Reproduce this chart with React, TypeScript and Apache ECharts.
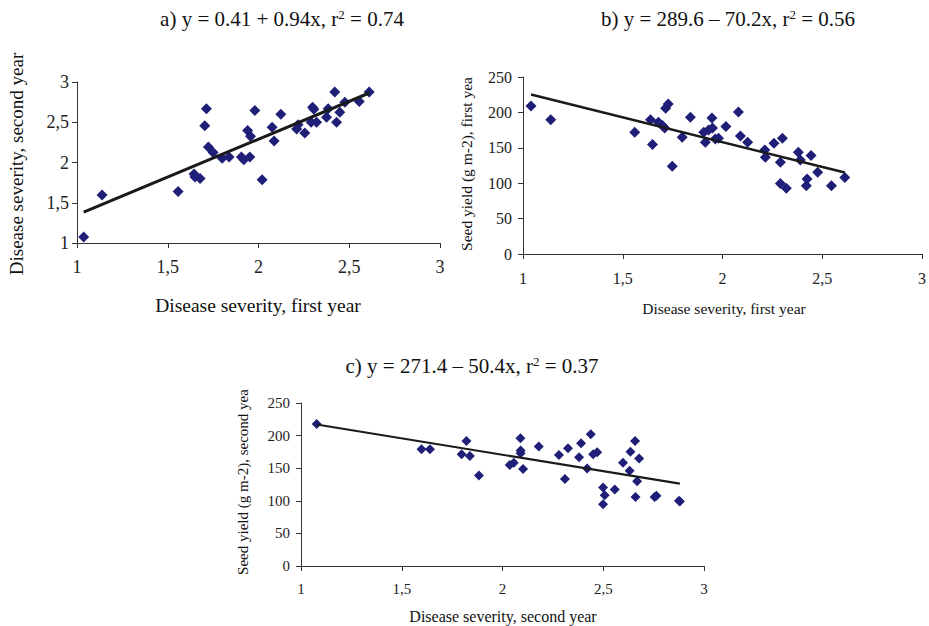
import { useEffect, useRef } from "react";
import * as echarts from "echarts";

// Panel a: disease severity first year vs second year
const aSev1 = [1.037, 1.138, 1.557, 1.645, 1.65, 1.678, 1.713, 1.704, 1.724, 1.75, 1.8, 1.838, 1.906, 1.919, 1.952, 1.94, 1.956, 1.98, 2.02, 2.075, 2.086, 2.123, 2.21, 2.218, 2.255, 2.298, 2.29, 2.32, 2.384, 2.375, 2.42, 2.43, 2.448, 2.476, 2.555, 2.61, 2.305];
const aSev2 = [1.075, 1.596, 1.64, 1.858, 1.82, 1.8, 2.667, 2.458, 2.192, 2.125, 2.054, 2.067, 2.067, 2.033, 2.067, 2.396, 2.325, 2.646, 1.787, 2.4375, 2.267, 2.6, 2.417, 2.47, 2.367, 2.6875, 2.5, 2.5, 2.667, 2.5625, 2.875, 2.5, 2.625, 2.75, 2.758, 2.875, 2.66];
const aFit = { intercept: 0.41, slope: 0.94 };

// Panel b: disease severity first year vs seed yield first year
const bSev = [1.04, 1.139, 1.56, 1.639, 1.649, 1.679, 1.699, 1.71, 1.715, 1.728, 1.748, 1.798, 1.839, 1.906, 1.914, 1.93, 1.947, 1.95, 1.964, 1.98, 2.017, 2.08, 2.09, 2.126, 2.212, 2.215, 2.258, 2.3, 2.29, 2.29, 2.32, 2.38, 2.39, 2.444, 2.424, 2.42, 2.477, 2.546, 2.613];
const bYield = [208.9, 189.5, 172, 189.5, 154.5, 186, 181.5, 178, 206, 212, 123.8, 165, 193, 172, 158, 175, 192, 178, 162.6, 163.5, 180, 200.4, 166.8, 157.8, 147, 136.6, 156.4, 163.5, 129.5, 99.7, 93, 143.7, 132.8, 139, 105.9, 96.4, 115.3, 96.4, 108.2];
const bFit = { intercept: 298, slope: -70 };

// Panel c: disease severity second year vs seed yield second year
const cSev = [1.078, 1.598, 1.64, 1.797, 1.821, 1.838, 1.883, 2.036, 2.056, 2.089, 2.09, 2.09, 2.102, 2.18, 2.28, 2.31, 2.325, 2.38, 2.39, 2.42, 2.438, 2.45, 2.47, 2.499, 2.507, 2.499, 2.557, 2.598, 2.631, 2.635, 2.658, 2.678, 2.668, 2.66, 2.764, 2.755, 2.876, 2.88];
const cYield = [217.6, 179, 179, 171.3, 191.9, 168.7, 138.9, 154.8, 158.4, 196, 177, 172.8, 148.7, 183.2, 170.3, 133.3, 180.6, 166.7, 188.3, 149.7, 202.2, 171.3, 174.4, 120.4, 108.6, 94.7, 117.3, 158.4, 146, 175.4, 191.9, 164.8, 129.9, 105.7, 107.7, 105.7, 100, 99];
const cFit = { intercept: 271.4, slope: -50.4 };

const FONT = "'Liberation Serif', 'Times New Roman', serif";
const MARK = "#1f1f78";
const AXIS = "#333333";

const pairs = (xs: number[], ys: number[]) => xs.map((x, i) => [x, ys[i]]);
const fitLine = (xs: number[], fit: { intercept: number; slope: number }) => {
  const x0 = Math.min(...xs);
  const x1 = Math.max(...xs);
  return [
    [x0, fit.intercept + fit.slope * x0],
    [x1, fit.intercept + fit.slope * x1],
  ];
};
const comma = (v: number) => String(v).replace(".", ",");

export default function App() {
  const ref = useRef<HTMLDivElement>(null);
  useEffect(() => {
    document.body.style.margin = "0";
    const chart = echarts.init(ref.current!, null, { renderer: "svg" });

    const xAxisBase = (gridIndex: number, fontSize: number, margin: number) => ({
      type: "value" as const,
      gridIndex,
      min: 1,
      max: 3,
      interval: 0.5,
      splitLine: { show: false },
      axisLine: { show: true, onZero: false, lineStyle: { color: AXIS, width: 1 } },
      axisTick: { show: true, length: 5, lineStyle: { color: AXIS } },
      axisLabel: { formatter: comma, color: "#222", fontFamily: FONT, fontSize, margin },
    });
    const yAxisBase = (
      gridIndex: number,
      min: number,
      max: number,
      interval: number,
      fontSize: number,
      margin: number
    ) => ({
      type: "value" as const,
      gridIndex,
      min,
      max,
      interval,
      splitLine: { show: false },
      axisLine: { show: true, onZero: false, lineStyle: { color: AXIS, width: 1 } },
      axisTick: { show: true, length: 5, lineStyle: { color: AXIS } },
      axisLabel: { formatter: comma, color: "#222", fontFamily: FONT, fontSize, margin },
    });

    const titleText = (x: number, y: number, pre: string, post: string) => ({
      type: "text",
      x,
      y,
      style: {
        text: `{t|${pre}}{s|2}{t|${post}}`,
        textAlign: "center",
        textVerticalAlign: "middle",
        rich: {
          t: { fontFamily: FONT, fontSize: 21, fill: "#111" },
          s: { fontFamily: FONT, fontSize: 13, fill: "#111", verticalAlign: "top", padding: [0, 0, 9, 0] },
        },
      },
    });
    const label = (x: number, y: number, text: string, fontSize: number, vertical = false) => ({
      type: "text",
      x,
      y,
      rotation: vertical ? Math.PI / 2 : 0,
      style: {
        text,
        fontFamily: FONT,
        fontSize,
        fill: "#111",
        textAlign: "center",
        textVerticalAlign: "middle",
      },
    });

    const scatter = (i: number, data: number[][], size: number) => ({
      type: "scatter",
      xAxisIndex: i,
      yAxisIndex: i,
      data,
      symbol: "diamond",
      symbolSize: size,
      itemStyle: { color: MARK, opacity: 1 },
      z: 3,
    });
    const line = (i: number, data: number[][], width: number) => ({
      type: "line",
      xAxisIndex: i,
      yAxisIndex: i,
      data,
      symbol: "none",
      lineStyle: { color: "#1a1a1a", width },
      z: 4,
    });

    chart.setOption({
      animation: false,
      backgroundColor: "#ffffff",
      grid: [
        { left: 77, top: 82, width: 363, height: 161 },
        { left: 523, top: 77, width: 402, height: 177 },
        { left: 301, top: 403, width: 403, height: 163 },
      ],
      xAxis: [xAxisBase(0, 18, 15), xAxisBase(1, 16, 16), xAxisBase(2, 15, 15)],
      yAxis: [
        yAxisBase(0, 1, 3, 0.5, 18, 8),
        yAxisBase(1, 0, 250, 50, 16, 11),
        yAxisBase(2, 0, 250, 50, 15, 11),
      ],
      series: [
        scatter(0, pairs(aSev1, aSev2), 11),
        line(0, fitLine(aSev1, aFit), 3),
        scatter(1, pairs(bSev, bYield), 11),
        line(1, fitLine(bSev, bFit), 2.5),
        scatter(2, pairs(cSev, cYield), 10),
        line(2, fitLine(cSev, cFit), 2.2),
      ],
      graphic: [
        titleText(282, 19, "a) y = 0.41 + 0.94x, r", " = 0.74"),
        titleText(728, 19, "b) y = 289.6 \u2013 70.2x, r", " = 0.56"),
        titleText(472, 366, "c) y = 271.4 \u2013 50.4x, r", " = 0.37"),
        label(258, 305, "Disease severity, first year", 19.5),
        label(16, 164, "Disease severity, second year", 19, true),
        label(724, 308, "Disease severity, first year", 15.5),
        label(466, 164, "Seed yield (g m-2), first yea", 15.5, true),
        label(503, 616, "Disease severity, second year", 16),
        label(243, 482, "Seed yield (g m-2), second yea", 15, true),
      ],
    });
    return () => chart.dispose();
  }, []);
  return <div ref={ref} style={{ width: 929, height: 626 }} />;
}
